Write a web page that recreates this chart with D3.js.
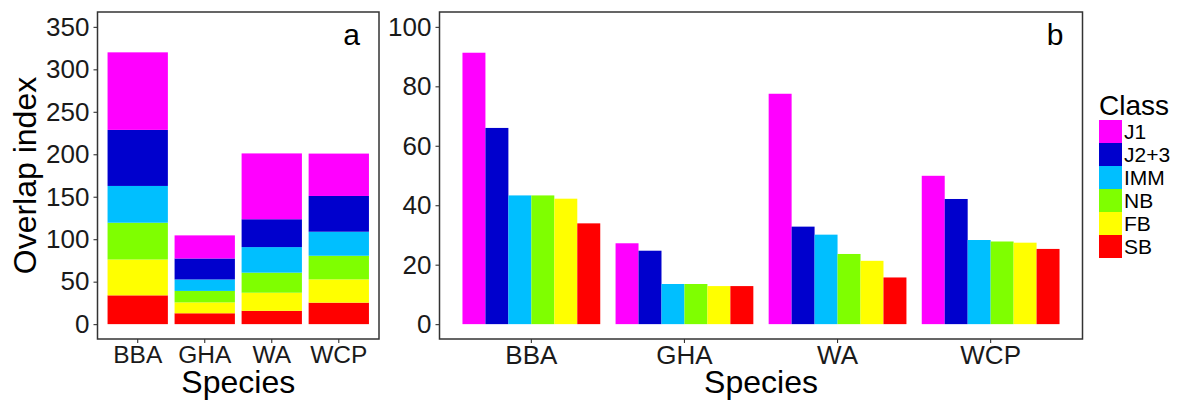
<!DOCTYPE html>
<html>
<head>
<meta charset="utf-8">
<script src="https://cdn.jsdelivr.net/npm/d3@7"></script>
<style>
  body { margin: 0; background: #fff; }
  svg { display: block; font-family: "Liberation Sans", Arial, sans-serif; }
</style>
</head>
<body>
<div id="chart-area"></div>
<script>
// Datos
var species = ["BBA", "GHA", "WA", "WCP"];
var classes = ["J1", "J2+3", "IMM", "NB", "FB", "SB"];
var colors  = ["#ff00ff", "#0000cd", "#00bfff", "#7fff00", "#ffff00", "#ff0000"];

var J1   = [91.3, 27.2, 77.5, 49.9];
var J23  = [66.0, 24.7, 32.8, 42.1];
var IMM  = [43.3, 13.5, 30.1, 28.3];
var NB   = [43.3, 13.5, 23.6, 27.8];
var FB   = [42.2, 12.8, 21.3, 27.4];
var SB   = [33.9, 12.8, 15.7, 25.3];

var ticksA = [0, 50, 100, 150, 200, 250, 300, 350];
var ticksB = [0, 20, 40, 60, 80, 100];

// tabla por especie
var series = [J1, J23, IMM, NB, FB, SB];
var data = species.map(function(s, i) {
    var row = { species: s };
    classes.forEach(function(c, j) { row[c] = series[j][i]; });
    return row;
});

var color = d3.scaleOrdinal().domain(classes).range(colors);

var svg = d3.select("#chart-area").append("svg")
    .attr("width", 1189)
    .attr("height", 409);

var plotTop = 12, plotBottom = 339;

function frame(g, x, y, ticks, left, right, letter, xFont) {
    // ejes
    var yAxis = g.append("g")
        .attr("transform", "translate(" + left + ",0)")
        .call(d3.axisLeft(y).tickValues(ticks).tickSize(4).tickPadding(4));
    var xAxis = g.append("g")
        .attr("transform", "translate(0," + plotBottom + ")")
        .call(d3.axisBottom(x).tickSize(4).tickPadding(3));
    [yAxis, xAxis].forEach(function(a) {
        a.select(".domain").remove();
        a.selectAll(".tick line").attr("stroke", "#333").attr("stroke-width", 1.1);
        a.selectAll("text").attr("fill", "#1a1a1a").style("font-size", "26px")
            .style("font-family", "'Liberation Sans', Arial, sans-serif");
    });
    xAxis.selectAll("text").style("font-size", xFont);

    g.append("rect")
        .attr("x", left).attr("y", plotTop)
        .attr("width", right - left).attr("height", plotBottom - plotTop)
        .attr("fill", "none").attr("stroke", "#333").attr("stroke-width", 1.5);

    g.append("text")
        .attr("x", right - 19).attr("y", 45)
        .attr("text-anchor", "end")
        .style("font-size", "30px")
        .text(letter);

    g.append("text")
        .attr("x", (left + right) / 2).attr("y", 393)
        .attr("text-anchor", "middle")
        .style("font-size", "32px")
        .text("Species");
}

// ---------- panel a: barras apiladas ----------
var ga = svg.append("g");
var la = 97.5, ra = 379;
var xa = d3.scaleBand().domain(species).range([la, ra]).paddingInner(0.1).paddingOuter(0.15);
var ya = d3.scaleLinear().domain([-17.5, 367.5]).range([plotBottom, plotTop]);

var stack = d3.stack().keys(classes.slice().reverse());
var layers = stack(data);

ga.selectAll("g.layer")
    .data(layers)
    .enter().append("g")
    .attr("class", "layer")
    .attr("fill", function(d) { return color(d.key); })
    .selectAll("rect")
    .data(function(d) { return d; })
    .enter().append("rect")
    .attr("x", function(d) { return xa(d.data.species); })
    .attr("width", xa.bandwidth())
    .attr("y", function(d) { return ya(d[1]); })
    .attr("height", function(d) { return ya(d[0]) - ya(d[1]); });

frame(ga, xa, ya, ticksA, la, ra, "a", "24.5px");

ga.append("text")
    .attr("transform", "translate(36," + ((plotTop + plotBottom) / 2) + ") rotate(-90)")
    .attr("text-anchor", "middle")
    .style("font-size", "32px")
    .text("Overlap index");

// ---------- panel b: barras agrupadas ----------
var gb = svg.append("g");
var lb = 439.5, rb = 1082.5;
var xb = d3.scaleBand().domain(species).range([lb, rb]).paddingInner(0.1).paddingOuter(0.15);
var xInner = d3.scaleBand().domain(classes).range([0, xb.bandwidth()]);
var yb = d3.scaleLinear().domain([-5, 105]).range([plotBottom, plotTop]);

gb.selectAll("g.group")
    .data(data)
    .enter().append("g")
    .attr("class", "group")
    .attr("transform", function(d) { return "translate(" + xb(d.species) + ",0)"; })
    .selectAll("rect")
    .data(function(d) { return classes.map(function(c) { return { key: c, value: d[c] }; }); })
    .enter().append("rect")
    .attr("x", function(d) { return xInner(d.key); })
    .attr("width", xInner.bandwidth())
    .attr("y", function(d) { return yb(d.value); })
    .attr("height", function(d) { return yb(0) - yb(d.value); })
    .attr("fill", function(d) { return color(d.key); });

frame(gb, xb, yb, ticksB, lb, rb, "b", "26px");

// ---------- leyenda ----------
var legend = svg.append("g").attr("transform", "translate(1099,0)");
legend.append("text")
    .attr("x", 0).attr("y", 115)
    .style("font-size", "28px")
    .text("Class");

var keys = legend.selectAll("g.key")
    .data(classes)
    .enter().append("g")
    .attr("class", "key")
    .attr("transform", function(d, i) { return "translate(0," + (120 + i * 23) + ")"; });

keys.append("rect")
    .attr("width", 23).attr("height", 23)
    .attr("fill", function(d) { return color(d); });

keys.append("text")
    .attr("x", 25).attr("y", 11.5)
    .attr("dy", "0.36em")
    .style("font-size", "21px")
    .text(function(d) { return d; });
</script>
</body>
</html>
